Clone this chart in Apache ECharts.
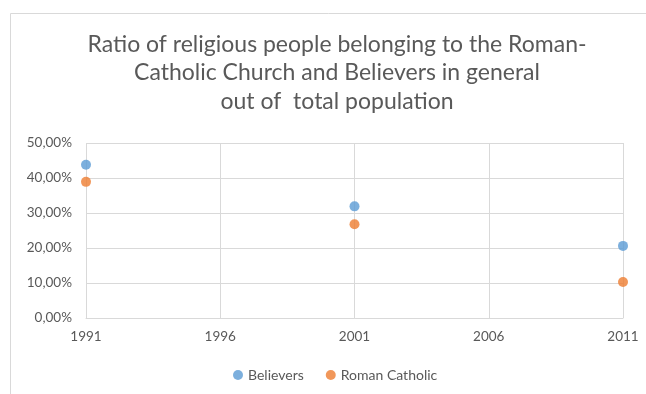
<!DOCTYPE html>
<html>
<head>
<meta charset="utf-8">
<script src="https://cdn.jsdelivr.net/npm/echarts@6/dist/echarts.min.js"></script>
<style>
  html, body { margin: 0; padding: 0; background: #fff; }
  #chart { width: 646px; height: 394px; }
</style>
</head>
<body>
<div id="chart"></div>
<script>
  // census years and shares of total population
  var years = ['1991', '2001', '2011']
  var believers = [0.438, 0.319, 0.206]
  var romanCatholic = [0.389, 0.268, 0.103]

  // x axis runs year by year, labels every 5 years
  var axisYears = []
  for (var y = 1991; y <= 2011; y++) axisYears.push(String(y))

  function pairs(vals) {
    return vals.map(function (v, i) { return [years[i], v] })
  }

  var chart = echarts.init(document.getElementById('chart'))
  chart.setOption({
    animation: false,
    textStyle: { fontFamily: 'Lato' },
    graphic: [{
      type: 'rect',
      shape: { x: 10.5, y: 13.5, width: 700, height: 420 },
      style: { fill: 'none', stroke: '#d9d9d9', lineWidth: 1 },
      silent: true
    }],
    title: {
      text: 'Ratio of religious people belonging to the Roman-\nCatholic Church and Believers in general\nout of  total population',
      left: 332,
      top: 25,
      textAlign: 'center',
      textStyle: {
        fontFamily: 'Lato',
        fontSize: 23,
        fontWeight: 'normal',
        color: '#595959',
        lineHeight: 28.5
      }
    },
    legend: {
      data: ['Believers', 'Roman Catholic'],
      left: 228,
      top: 363,
      icon: 'circle',
      itemWidth: 10,
      itemHeight: 10,
      itemGap: 22,
      textStyle: { fontSize: 14, color: '#595959' }
    },
    grid: { left: 86, right: 23, top: 143, bottom: 76 },
    xAxis: {
      type: 'category',
      data: axisYears,
      boundaryGap: false,
      axisLine: { lineStyle: { color: '#d9d9d9' } },
      axisTick: { show: false },
      axisLabel: { interval: 4, color: '#595959', fontSize: 13.5, margin: 12 },
      splitLine: { show: true, interval: 4, lineStyle: { color: '#d9d9d9' } }
    },
    yAxis: {
      type: 'value',
      min: 0,
      max: 0.5,
      interval: 0.1,
      axisLine: { show: false },
      axisTick: { show: false },
      axisLabel: {
        color: '#595959',
        fontSize: 13.5,
        margin: 14,
        formatter: function (v) { return (v * 100).toFixed(2).replace('.', ',') + '%' }
      },
      splitLine: { lineStyle: { color: '#d9d9d9' } }
    },
    series: [{
      name: 'Believers',
      type: 'scatter',
      symbolSize: 10,
      data: pairs(believers),
      itemStyle: { color: '#5b9bd5' }
    }, {
      name: 'Roman Catholic',
      type: 'scatter',
      symbolSize: 10,
      data: pairs(romanCatholic),
      itemStyle: { color: '#ed7d31' }
    }]
  })
</script>
</body>
</html>
